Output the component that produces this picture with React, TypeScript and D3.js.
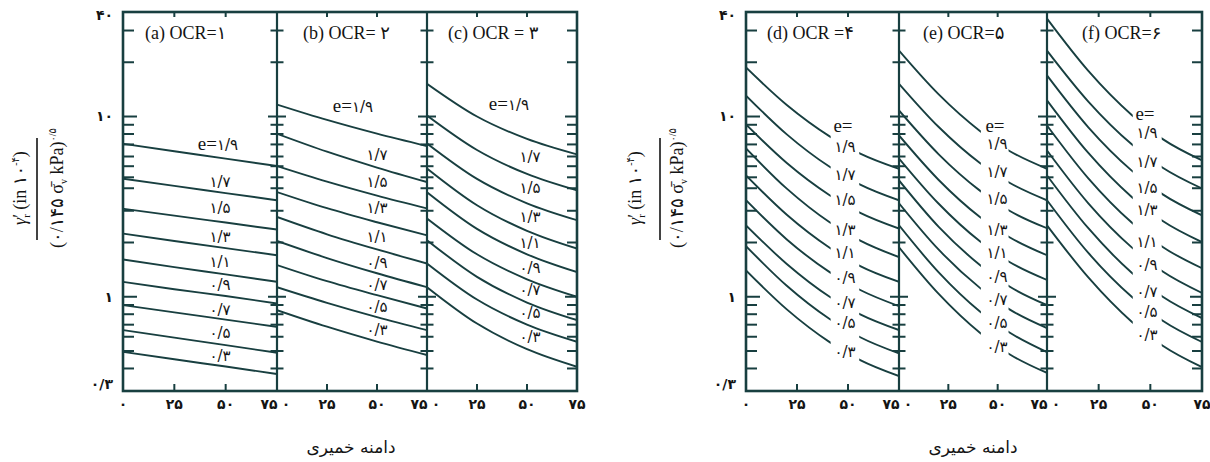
import React from 'react';
import * as d3 from 'd3';

// ---------- data ----------
const X_TICKS = [0, 25, 50, 75];
const X_TICK_LABELS = ['۰', '۲۵', '۵۰', '۷۵'];
const X_INNER_TICKS = [25, 50];
const Y_MAJOR = [0.3, 1, 10, 40];
const Y_MAJOR_LABELS = ['۰/۳', '۱', '۱۰', '۴۰'];
const Y_MINOR = [0.4, 0.5, 0.6, 0.7, 0.8, 0.9, 2, 3, 4, 4.6, 5.3, 6, 7, 8, 9, 20, 30];
const Y_DOMAIN = [0.3, 40];
const E_LABELS = ['۱/۹', '۱/۷', '۱/۵', '۱/۳', '۱/۱', '۰/۹', '۰/۷', '۰/۵', '۰/۳'];
const PANEL_TITLES = ['(a) OCR=۱', '(b) OCR= ۲', '(c) OCR = ۳', '(d) OCR =۴', '(e) OCR=۵', '(f) OCR=۶'];
const X_TITLE = 'دامنه خمیری';

const X_LEFT = [0, 25, 50, 75];
const X_RIGHT = [0, 20, 41, 56, 75];
const GAP = [41.5, 55.5];

const OCR1_VALUES = [
  [7.06, 6.42, 5.84, 5.31],
  [4.52, 4.12, 3.76, 3.43],
  [3.08, 2.82, 2.58, 2.36],
  [2.24, 2.04, 1.86, 1.70],
  [1.61, 1.46, 1.33, 1.21],
  [1.21, 1.10, 1.01, 0.918],
  [0.899, 0.819, 0.747, 0.681],
  [0.653, 0.593, 0.539, 0.489],
  [0.495, 0.450, 0.410, 0.373],
];
const OCR2_VALUES = [
  [11.65, 9.57, 8.03, 6.85],
  [8.02, 6.38, 5.21, 4.33],
  [5.31, 4.35, 3.64, 3.09],
  [3.81, 3.10, 2.59, 2.19],
  [2.77, 2.22, 1.83, 1.53],
  [2.04, 1.64, 1.35, 1.13],
  [1.50, 1.22, 1.02, 0.861],
  [1.13, 0.925, 0.771, 0.653],
  [0.843, 0.682, 0.564, 0.475],
];
const OCR3_VALUES = [
  [15.2, 10.0, 7.51, 6.16],
  [10.13, 6.52, 4.80, 3.89],
  [7.09, 4.51, 3.30, 2.66],
  [5.15, 3.22, 2.32, 1.85],
  [3.80, 2.38, 1.72, 1.37],
  [2.72, 1.72, 1.25, 1.00],
  [2.06, 1.29, 0.929, 0.742],
  [1.53, 0.965, 0.701, 0.563],
  [1.13, 0.710, 0.512, 0.409],
];
const OCR4_VALUES = [
  [18.7, 11.58, 7.76, 6.23, 5.13],
  [13.07, 7.96, 5.26, 4.19, 3.43],
  [9.03, 5.52, 3.66, 2.92, 2.39],
  [6.65, 3.98, 2.59, 2.05, 1.66],
  [4.71, 2.85, 1.87, 1.48, 1.21],
  [3.43, 2.08, 1.37, 1.09, 0.887],
  [2.49, 1.52, 1.00, 0.798, 0.653],
  [1.91, 1.15, 0.752, 0.596, 0.485],
  [1.40, 0.851, 0.560, 0.445, 0.363],
];
const OCR5_VALUES = [
  [23.2, 13.3, 8.32, 6.44, 5.13],
  [15.2, 8.77, 5.52, 4.29, 3.43],
  [10.8, 6.19, 3.88, 3.00, 2.40],
  [7.85, 4.46, 2.77, 2.14, 1.70],
  [5.85, 3.29, 2.03, 1.56, 1.24],
  [4.42, 2.45, 1.50, 1.14, 0.899],
  [3.30, 1.83, 1.12, 0.851, 0.670],
  [2.49, 1.37, 0.829, 0.633, 0.493],
  [1.88, 1.04, 0.631, 0.480, 0.378],
];
const OCR6_VALUES = [
  [34.9, 17.9, 10.2, 7.49, 5.71],
  [23.2, 12.1, 7.01, 5.20, 3.99],
  [16.9, 8.71, 5.01, 3.70, 2.83],
  [12.3, 6.28, 3.58, 2.63, 2.01],
  [8.92, 4.54, 2.58, 1.89, 1.44],
  [6.48, 3.30, 1.88, 1.38, 1.05],
  [4.71, 2.40, 1.36, 1.00, 0.761],
  [3.43, 1.75, 1.00, 0.736, 0.561],
  [2.49, 1.28, 0.727, 0.535, 0.407],
];

// ---------- layout ----------
const TOP = 12;
const BOTTOM = 391;
const STROKE = '#183f40';
const TEXT = '#141414';
const FONT_FA = "'DejaVu Sans', sans-serif";
const FONT_SERIF = "'Liberation Serif', 'DejaVu Sans', serif";

const yScale = d3.scaleLog().domain(Y_DOMAIN).range([BOTTOM, 8]);

type PanelDef = {
  x0: number; x1: number; xs: number[]; series: number[][];
  first: boolean; last: boolean; split: boolean;
  titleDx: number; labelX: number; firstLabelX: number; labelY: number[]; eY?: number;
};

const PANELS: PanelDef[] = [
  { x0: 123, x1: 277, xs: X_LEFT, series: OCR1_VALUES, first: true, last: false, split: false, titleDx: 22, labelX: 220, firstLabelX: 218, labelY: [145, 182, 208, 237, 262, 285, 310, 333, 356] },
  { x0: 277, x1: 427, xs: X_LEFT, series: OCR2_VALUES, first: false, last: false, split: false, titleDx: 26, labelX: 377, firstLabelX: 353, labelY: [107, 155, 182, 208, 237, 263, 285, 307, 330] },
  { x0: 427, x1: 577, xs: X_LEFT, series: OCR3_VALUES, first: false, last: true, split: false, titleDx: 21, labelX: 530, firstLabelX: 509, labelY: [105, 157, 188, 217, 243, 268, 290, 313, 337] },
  { x0: 746, x1: 899, xs: X_RIGHT, series: OCR4_VALUES, first: true, last: false, split: true, titleDx: 21, labelX: 845, firstLabelX: 845, eY: 125, labelY: [147, 175, 200, 230, 253, 278, 303, 323, 352] },
  { x0: 899, x1: 1047, xs: X_RIGHT, series: OCR5_VALUES, first: false, last: false, split: true, titleDx: 24, labelX: 997, firstLabelX: 997, eY: 125, labelY: [144, 172, 199, 230, 253, 277, 300, 323, 347] },
  { x0: 1047, x1: 1202, xs: X_RIGHT, series: OCR6_VALUES, first: false, last: true, split: true, titleDx: 35, labelX: 1147, firstLabelX: 1147, eY: 113, labelY: [133, 162, 188, 210, 242, 265, 292, 312, 335] },
];

const GROUPS = [
  { x0: 123, x1: 577, dividers: [277, 427], titleX: 351, yl1: 20, ylLine: 37, yl2: 57 },
  { x0: 746, x1: 1202, dividers: [899, 1047], titleX: 973, yl1: 635, ylLine: 660, yl2: 677 },
];

function Panel({ p, i }: { p: PanelDef; i: number }) {
  const x = d3.scaleLinear().domain([0, 75]).range([p.x0, p.x1]);
  const line = d3.line<number>()
    .x((_, k) => x(p.xs[k]))
    .y((d) => yScale(d))
    .curve(d3.curveMonotoneX);
  const clipId = `clip-${i}`;
  return (
    <g>
      <defs>
        <clipPath id={clipId}>
          {p.split ? (
            <>
              <rect x={p.x0} y={TOP} width={x(GAP[0]) - p.x0} height={BOTTOM - TOP} />
              <rect x={x(GAP[1])} y={TOP} width={p.x1 - x(GAP[1])} height={BOTTOM - TOP} />
            </>
          ) : (
            <rect x={p.x0} y={TOP} width={p.x1 - p.x0} height={BOTTOM - TOP} />
          )}
        </clipPath>
      </defs>
      <g clipPath={`url(#${clipId})`}>
        {p.series.map((s, k) => (
          <path key={k} d={line(s) || ''} fill="none" stroke={STROKE} strokeWidth={1.9} />
        ))}
      </g>
      {X_INNER_TICKS.map((t) => (
        <g key={t}>
          <line x1={x(t)} x2={x(t)} y1={TOP} y2={TOP + 5} stroke={STROKE} strokeWidth={2} />
          <line x1={x(t)} x2={x(t)} y1={BOTTOM} y2={BOTTOM - 7} stroke={STROKE} strokeWidth={2} />
        </g>
      ))}
      {X_TICKS.map((t, k) => {
        let dx = 0;
        if (t === 0 && !p.first) dx = 9;
        if (t === 75 && !p.last) dx = -8;
        return (
          <text key={t} x={x(t) + dx} y={BOTTOM + 13} dy="0.35em" textAnchor="middle"
            fontFamily={FONT_FA} fontWeight="bold" fontSize={14} fill={TEXT}>{X_TICK_LABELS[k]}</text>
        );
      })}
      <text x={p.x0 + p.titleDx} y={39} fontFamily={FONT_SERIF} fontSize={18} fill={TEXT}>{PANEL_TITLES[i]}</text>
      {p.split && p.eY !== undefined && (
        <text x={p.labelX - 2} y={p.eY} dy="0.35em" textAnchor="middle" fontFamily={FONT_SERIF} fontSize={19} fill={TEXT}>e=</text>
      )}
      {E_LABELS.map((lab, k) => (
        <text key={k} x={k === 0 ? p.firstLabelX : p.labelX} y={p.labelY[k]} dy="0.35em" textAnchor="middle"
          fontFamily={FONT_SERIF} fontSize={15} fill={TEXT}>
          {k === 0 && !p.split ? (<><tspan fontSize={19}>e=</tspan><tspan fontFamily={FONT_FA}>{lab}</tspan></>) : (<tspan fontFamily={FONT_FA}>{lab}</tspan>)}
        </text>
      ))}
    </g>
  );
}

function Group({ g }: { g: typeof GROUPS[number] }) {
  const ticks = [
    ...Y_MAJOR.filter((v) => v > Y_DOMAIN[0] && yScale(v) > TOP + 2).map((v) => ({ v, major: true })),
    ...Y_MINOR.map((v) => ({ v, major: false })),
  ];
  return (
    <g>
      {ticks.map(({ v, major }, k) => {
        const y = yScale(v);
        return (
          <g key={k}>
            <line x1={g.x0} x2={g.x0 + (major ? 14 : 11)} y1={y} y2={y} stroke={STROKE} strokeWidth={2} />
            {g.dividers.map((d) => (
              <line key={d} x1={d - (major ? 9 : 6.5)} x2={d + (major ? 9 : 6.5)} y1={y} y2={y} stroke={STROKE} strokeWidth={2} />
            ))}
            <line x1={g.x1} x2={g.x1 - (major ? 12 : 10)} y1={y} y2={y} stroke={STROKE} strokeWidth={2} />
          </g>
        );
      })}
      <rect x={g.x0} y={TOP} width={g.x1 - g.x0} height={BOTTOM - TOP} fill="none" stroke={STROKE} strokeWidth={2.6} />
      {g.dividers.map((d) => (
        <line key={d} x1={d} x2={d} y1={TOP} y2={BOTTOM} stroke={STROKE} strokeWidth={2.2} />
      ))}
      {Y_MAJOR.map((v, k) => {
        let y = Math.max(yScale(v), TOP + 3);
        if (k === 0) y = BOTTOM - 7;
        return (
          <text key={v} x={g.x0 - 10} y={y} dy="0.35em" textAnchor="end" fontFamily={FONT_FA}
            fontWeight="bold" fontSize={14} fill={TEXT}>{Y_MAJOR_LABELS[k]}</text>
        );
      })}
      <text x={g.titleX} y={447} dy="0.35em" textAnchor="middle" fontFamily={FONT_FA} fontSize={17} fill={TEXT}>{X_TITLE}</text>
      <text transform={`translate(${g.yl1},188) rotate(-90)`} textAnchor="middle" dy="0.35em"
        fontFamily={FONT_SERIF} fontSize={18} fill={TEXT}>
        <tspan fontStyle="italic">γ</tspan><tspan>′</tspan><tspan fontSize={11} dy={4} dx={-4}>r</tspan>
        <tspan dy={-4}> (in ۱۰</tspan><tspan fontSize={10} dy={-7}>-۴</tspan><tspan dy={7}>)</tspan>
      </text>
      <line x1={g.ylLine} x2={g.ylLine} y1={138} y2={240} stroke={TEXT} strokeWidth={1.6} />
      <text transform={`translate(${g.yl2},188) rotate(-90)`} textAnchor="middle" dy="0.35em"
        fontFamily={FONT_SERIF} fontSize={18} fill={TEXT}>
        <tspan>(۰/۱۴۵ σ̄</tspan><tspan fontSize={10} dy={4}>v</tspan><tspan dy={-4}> kPa)</tspan><tspan fontSize={10} dy={-7}>۰/۵</tspan>
      </text>
    </g>
  );
}

export default function App() {
  return (
    <svg width={1210} height={462} style={{ position: 'absolute', left: 0, top: 0, background: '#fff' }}>
      <rect x={0} y={0} width={1210} height={462} fill="#fff" />
      {PANELS.map((p, i) => (<Panel key={i} p={p} i={i} />))}
      {GROUPS.map((g, i) => (<Group key={i} g={g} />))}
    </svg>
  );
}
